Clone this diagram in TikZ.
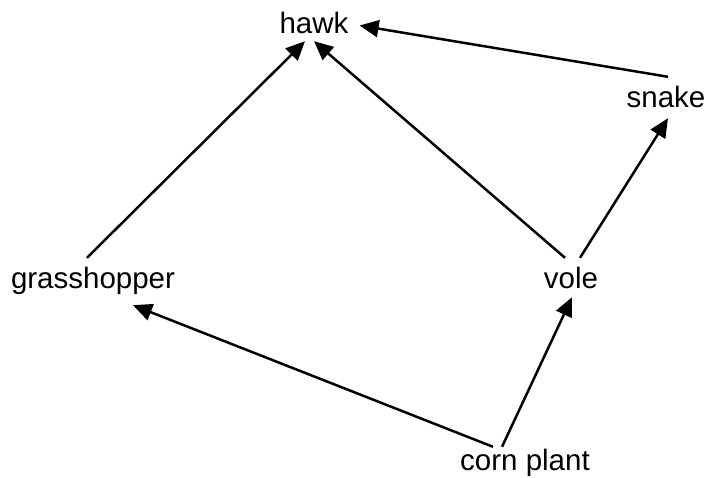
\documentclass[tikz,border=0pt]{standalone}
\usepackage{fontspec}
\setmainfont{Liberation Sans}
\usetikzlibrary{arrows.meta,calc}
\begin{document}
\begin{tikzpicture}[x=1pt,y=-1pt,
  lbl/.style={inner sep=0pt,anchor=base,font=\fontsize{29.5}{34}\selectfont,text height=21pt,text depth=6pt},
  link/.style={line width=2.5pt,-{Triangle[length=19pt,width=17pt]}}]
\path[use as bounding box] (0,0) rectangle (711,477);
\node[lbl] (hawk) at (314,33) {hawk};
\node[lbl] (snake) at (666,107) {snake};
\node[lbl] (grass) at (93,288) {grasshopper};
\node[lbl] (vole) at (571,288) {vole};
\node[lbl] (corn) at (525,470) {corn plant};
\draw[link] ($(grass.north)+(-6,-9)$) -- ($(hawk.south)+(-9,2)$);
\draw[link] ($(vole.north)+(-6,-9)$) -- ($(hawk.south)+(0,2)$);
\draw[link] ($(vole.north)+(9,-9)$) -- ($(snake.south)+(2,5)$);
\draw[link] ($(snake.north)+(2,-9)$) -- ($(hawk.east)+(11,0)$);
\draw[link] ($(corn.north)+(-32,-2)$) -- ($(grass.south)+(40,11)$);
\draw[link] ($(corn.north)+(-23,-2)$) -- ($(vole.south)+(1,3)$);
\end{tikzpicture}
\end{document}
